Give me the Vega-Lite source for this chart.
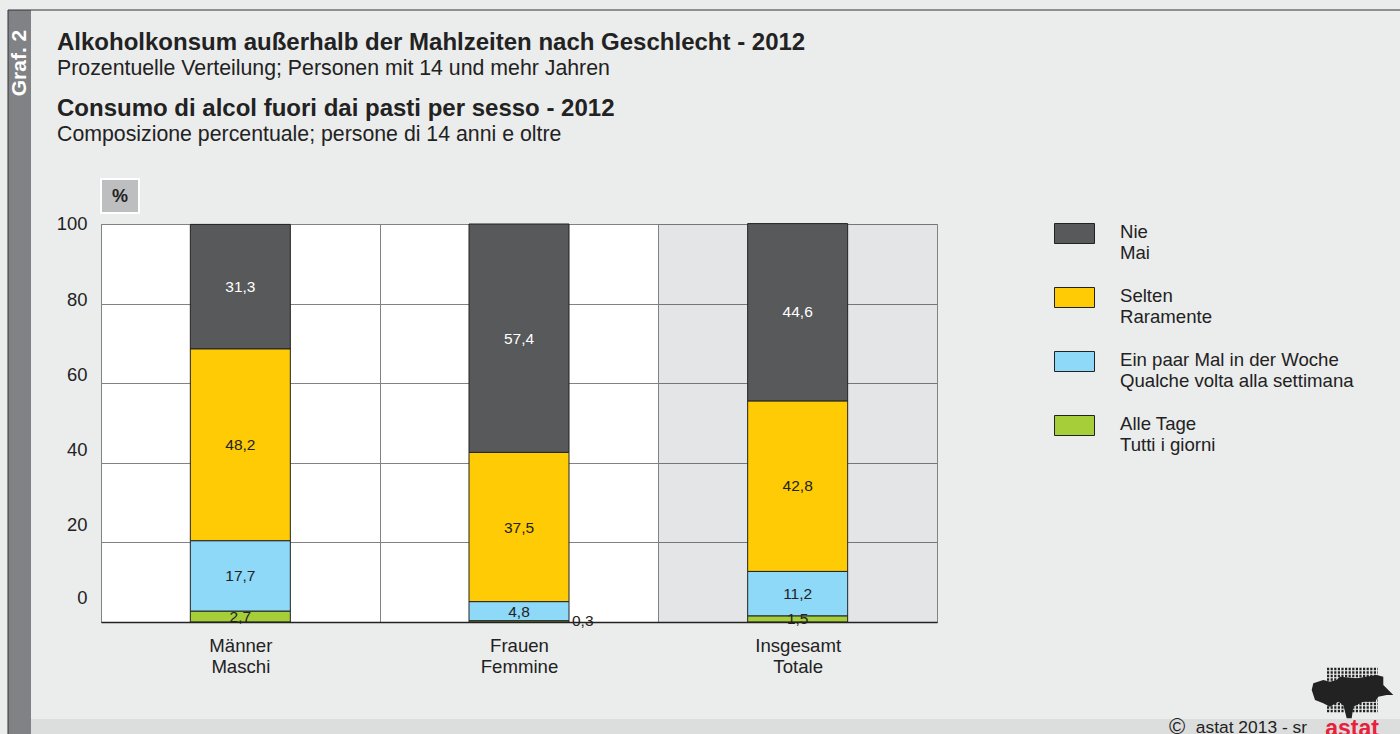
{
"$schema":"https://vega.github.io/schema/vega-lite/v6.json",
"width":836,"height":398,
"autosize":{"type":"none"},
"padding":{"left":101,"top":224,"right":463,"bottom":112},
"background":"#ebecec",
"config":{"font":"Liberation Sans","view":{"fill":"#ffffff","stroke":"#6d6e71","strokeWidth":1}},
"title":{"text":"Alkoholkonsum außerhalb der Mahlzeiten nach Geschlecht - 2012","subtitle":"Prozentuelle Verteilung; Personen mit 14 und mehr Jahren","anchor":"start","frame":"group","dx":-44,"offset":-70,"font":"Liberation Sans","fontSize":24,"fontWeight":"bold","color":"#222222","subtitleFont":"Liberation Sans","subtitleFontSize":21.3,"subtitleColor":"#222222","subtitlePadding":3},
"data":{"values":[
{"group":"Männer\nMaschi","cat":"Nie\nMai","ord":4,"value":31.3,"label":"31,3"},
{"group":"Männer\nMaschi","cat":"Selten\nRaramente","ord":3,"value":48.2,"label":"48,2"},
{"group":"Männer\nMaschi","cat":"Ein paar Mal in der Woche\nQualche volta alla settimana","ord":2,"value":17.7,"label":"17,7"},
{"group":"Männer\nMaschi","cat":"Alle Tage\nTutti i giorni","ord":1,"value":2.7,"label":"2,7"},
{"group":"Frauen\nFemmine","cat":"Nie\nMai","ord":4,"value":57.4,"label":"57,4"},
{"group":"Frauen\nFemmine","cat":"Selten\nRaramente","ord":3,"value":37.5,"label":"37,5"},
{"group":"Frauen\nFemmine","cat":"Ein paar Mal in der Woche\nQualche volta alla settimana","ord":2,"value":4.8,"label":"4,8"},
{"group":"Frauen\nFemmine","cat":"Alle Tage\nTutti i giorni","ord":1,"value":0.3,"label":"0,3"},
{"group":"Insgesamt\nTotale","cat":"Nie\nMai","ord":4,"value":44.6,"label":"44,6"},
{"group":"Insgesamt\nTotale","cat":"Selten\nRaramente","ord":3,"value":42.8,"label":"42,8"},
{"group":"Insgesamt\nTotale","cat":"Ein paar Mal in der Woche\nQualche volta alla settimana","ord":2,"value":11.2,"label":"11,2"},
{"group":"Insgesamt\nTotale","cat":"Alle Tage\nTutti i giorni","ord":1,"value":1.5,"label":"1,5"}
]},
"layer":[
{"data":{"values":[{"group":"Insgesamt\nTotale"}]},"mark":{"type":"rect","fill":"#23262f","opacity":0.12},
 "encoding":{"x":{"field":"group","type":"nominal","sort":["Männer\nMaschi","Frauen\nFemmine","Insgesamt\nTotale"],
   "scale":{"domain":["Männer\nMaschi","Frauen\nFemmine","Insgesamt\nTotale"],"paddingInner":0,"paddingOuter":0},
   "axis":{"title":null,"labelAngle":0,"labelExpr":"split(datum.label,'\\n')","labelFontSize":18.6,"labelColor":"#222222","labelLineHeight":21,"labelPadding":14,"ticks":false,"domain":true,"domainColor":"#222222","domainWidth":1.5,"grid":true,"gridColor":"#808285","gridWidth":1,"tickBand":"extent"}}}},
{"mark":{"type":"bar","size":100,"stroke":"#222222","strokeWidth":1},
 "encoding":{
  "x":{"field":"group","type":"nominal","sort":["Männer\nMaschi","Frauen\nFemmine","Insgesamt\nTotale"]},
  "y":{"field":"value","type":"quantitative","stack":"zero","scale":{"domain":[0,100],"nice":false},
    "axis":{"title":null,"values":[0,20,40,60,80,100],"labelFontSize":18.4,"labelColor":"#222222","labelPadding":14,"labelOffset":{"expr":"(datum.value-100)*0.24+((datum.value>0&&datum.value<100)?1:-0.5)"},"ticks":false,"domain":false,"grid":true,"gridColor":"#808285","gridWidth":1}},
  "order":{"field":"ord","type":"quantitative"},
  "color":{"field":"cat","type":"nominal","scale":{"domain":["Nie\nMai","Selten\nRaramente","Ein paar Mal in der Woche\nQualche volta alla settimana","Alle Tage\nTutti i giorni"],"range":["#58595b","#ffcb05","#8ed8f8","#a6ce39"]},
    "legend":{"title":null,"orient":"none","legendX":953,"legendY":-11,"symbolType":"M-1,-0.5H1V0.5H-1Z","symbolSize":1600,"symbolStrokeColor":"#222222","symbolStrokeWidth":1,"labelFontSize":18.6,"labelColor":"#222222","labelExpr":"split(datum.label,'\\n')","labelOffset":25,"labelBaseline":"top","rowPadding":14,"labelLimit":300,"encode":{"labels":{"update":{"lineHeight":{"value":21},"dy":{"value":-11}}}}}}
 }},
{"transform":[{"filter":"datum.value>=1"}],"mark":{"type":"text","fontSize":15.5},
 "encoding":{
  "x":{"field":"group","type":"nominal","sort":["Männer\nMaschi","Frauen\nFemmine","Insgesamt\nTotale"]},
  "y":{"field":"value","type":"quantitative","stack":"zero","bandPosition":0.5},
  "order":{"field":"ord","type":"quantitative"},
  "detail":{"field":"cat"},
  "text":{"field":"label"},
  "color":{"condition":{"test":"datum.ord===4","value":"#ffffff"},"value":"#222222"}
 }},
{"transform":[{"filter":"datum.value<1"}],"mark":{"type":"text","fontSize":15.5,"align":"left","dx":53,"color":"#222222"},
 "encoding":{
  "x":{"field":"group","type":"nominal","sort":["Männer\nMaschi","Frauen\nFemmine","Insgesamt\nTotale"]},
  "y":{"field":"value","type":"quantitative"},
  "text":{"field":"label"}
 }},
{"data":{"values":[{"a":1}]},"mark":{"type":"rect","fill":"#808285","clip":false},"encoding":{"x":{"value":-93},"x2":{"value":-70},"y":{"value":-214},"y2":{"value":510}}},
{"data":{"values":[{"a":1}]},"mark":{"type":"rect","fill":"#dcdddd"},"encoding":{"x":{"value":-70},"x2":{"value":1299},"y":{"value":495},"y2":{"value":510}}},
{"data":{"values":[{"a":1}]},"mark":{"type":"rule","color":"#333333","strokeWidth":1},"encoding":{"x":{"value":-93},"x2":{"value":1299},"y":{"value":-214}}},
{"data":{"values":[{"a":1}]},"mark":{"type":"rule","color":"#333333","strokeWidth":1},"encoding":{"x":{"value":-93},"y":{"value":-214},"y2":{"value":510}}},
{"data":{"values":[{"a":1}]},"mark":{"type":"rect","fill":"#bcbec0","stroke":"#ffffff","strokeWidth":2},"encoding":{"x":{"value":0},"x2":{"value":38},"y":{"value":-45},"y2":{"value":-11}}},
{"data":{"values":[{"t":"%"}]},"mark":{"type":"text","fontSize":18,"fontWeight":"bold","color":"#222222"},"encoding":{"x":{"value":19},"y":{"value":-27},"text":{"field":"t"}}},
{"data":{"values":[{"t":"Consumo di alcol fuori dai pasti per sesso - 2012"}]},"mark":{"type":"text","fontSize":24,"fontWeight":"bold","align":"left","color":"#222222"},"encoding":{"x":{"value":-44},"y":{"value":-115},"text":{"field":"t"}}},
{"data":{"values":[{"t":"Composizione percentuale; persone di 14 anni e oltre"}]},"mark":{"type":"text","fontSize":21.3,"align":"left","color":"#222222"},"encoding":{"x":{"value":-44},"y":{"value":-89},"text":{"field":"t"}}},
{"data":{"values":[{"t":"Graf. 2"}]},"mark":{"type":"text","fontSize":21,"fontWeight":"bold","angle":270,"color":"#ffffff"},"encoding":{"x":{"value":-81},"y":{"value":-161},"text":{"field":"t"}}},
{"data":{"values":[{"t":"astat 2013 - sr"}]},"mark":{"type":"text","fontSize":17.4,"align":"right","color":"#222222"},"encoding":{"x":{"value":1206},"y":{"value":504},"text":{"field":"t"}}},
{"data":{"values":[{"t":"©"}]},"mark":{"type":"text","fontSize":22,"color":"#222222"},"encoding":{"x":{"value":1076},"y":{"value":503},"text":{"field":"t"}}},
{"data":{"values":[{"a":1}]},"mark":{"type":"point","shape":"M-25,-22H26M-25,-18.5H26M-25,-15H26M-25,-11.5H26M-25,-8H26M-25,-4.5H26M-25,-1H26M-25,2.5H26M-25,6H26M-25,9.5H26M-25,13H26M-25,16.5H26M-25,20H26","filled":false,"stroke":"#222222","strokeWidth":2.4,"strokeDash":[2.2,1.4],"opacity":1,"size":4},"encoding":{"x":{"value":1251},"y":{"value":467}}},
{"data":{"values":[{"a":1}]},"mark":{"type":"point","shape":"M-38.7,-7.7L-28.7,-11L-22,-9.3L-15.3,-11L-12,-14.3L4.7,-12.7L24.7,-16L31.3,-14.3L31.3,-6L41.3,4L34.7,4L26.3,5.7L23,10.7L11.3,10.7L1.3,15.7L-0.3,27.3L-5.3,27.3L-8.7,14L-13.7,10.7L-22,15.7L-28.7,12.3L-37,9L-40.3,-1Z","filled":true,"fill":"#222222","opacity":1,"size":4},"encoding":{"x":{"value":1251},"y":{"value":467}}},
{"data":{"values":[{"t":"astat"}]},"mark":{"type":"text","fontSize":23,"fontWeight":"bold","color":"#e8203a"},"encoding":{"x":{"value":1251},"y":{"value":505},"text":{"field":"t"}}}
]
}
